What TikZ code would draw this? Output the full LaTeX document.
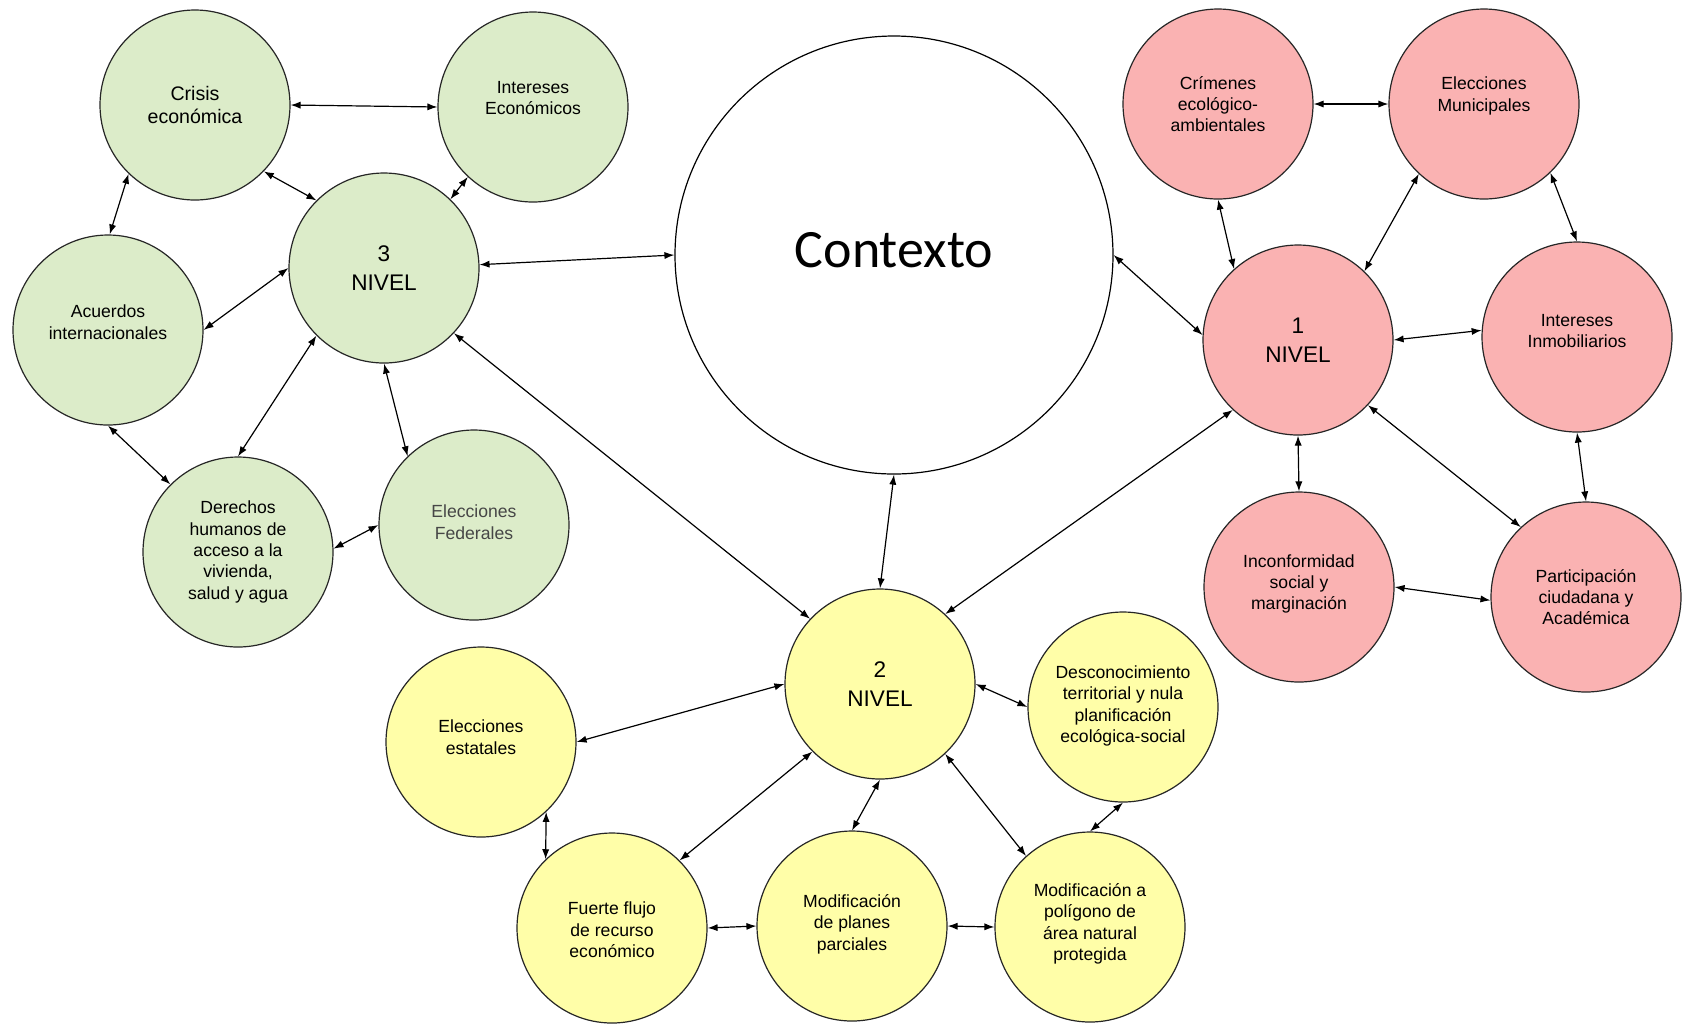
\documentclass[tikz,border=0pt]{standalone}
\usepackage{fontspec}
\setmainfont{Liberation Sans}
\newfontfamily\ctxfont{Carlito}
\usetikzlibrary{arrows.meta}
\definecolor{gfill}{RGB}{220,236,201}
\definecolor{rfill}{RGB}{250,178,178}
\definecolor{yfill}{RGB}{255,254,168}
\definecolor{efed}{RGB}{70,70,70}
\begin{document}
\begin{tikzpicture}[x=0.5pt,y=-0.5pt,
  circ/.style={circle, draw=black!85, line width=0.6pt, minimum size=95pt, inner sep=0pt},
  gcirc/.style={circ, fill=gfill},
  rcirc/.style={circ, fill=rfill},
  ycirc/.style={circ, fill=yfill},
  txt/.style={align=center, font=\fontsize{8.8}{10.7}\selectfont, inner sep=0pt},
  lvl/.style={align=center, font=\fontsize{11.3}{14.4}\selectfont, inner sep=0pt},
  con/.style={{Latex[length=5pt,width=3.6pt]}-{Latex[length=5pt,width=3.6pt]}, line width=0.6pt}]
\fill[white] (0,0) rectangle (1682,1025);
\useasboundingbox (0,0) rectangle (1682,1025);

% ---- green (level 3)
\node[gcirc] (crisis) at (195,105) {};
\node[gcirc] (intec) at (533,107) {};
\node[gcirc] (n3) at (384,268) {};
\node[gcirc] (acu) at (108,330) {};
\node[gcirc] (der) at (238,552) {};
\node[gcirc] (elfed) at (474,525) {};
\node[txt, font=\fontsize{9.8}{11.3}\selectfont] (crisis-t) at (195,105) {Crisis\\económica};
\node[txt] (intec-t) at (533,98) {Intereses\\Económicos};
\node[lvl] (n3-t) at (384,268) {3\\NIVEL};
\node[txt] (acu-t) at (108,322) {Acuerdos\\internacionales};
\node[txt] (der-t) at (238,552) {Derechos\\humanos de\\acceso a la\\vivienda,\\salud y agua};
\node[txt, text=efed] (elfed-t) at (474,522) {Elecciones\\Federales};

% ---- context
\node[circle, draw=black, line width=0.6pt, fill=white, minimum size=219pt, inner sep=0pt] (ctx) at (894,255) {};
\node[inner sep=0pt, font=\ctxfont\fontsize{27}{30}\selectfont] (ctx-t) at (894,250) {Contexto};

% ---- red (level 1)
\node[rcirc] (crim) at (1218,104) {};
\node[rcirc] (elmun) at (1484,104) {};
\node[rcirc] (n1) at (1298,340) {};
\node[rcirc] (intin) at (1577,337) {};
\node[rcirc] (incon) at (1299,587) {};
\node[rcirc] (part) at (1586,597) {};
\node[txt] (crim-t) at (1218,104) {Crímenes\\ecológico-\\ambientales};
\node[txt] (elmun-t) at (1484,96) {Elecciones\\Municipales};
\node[lvl] (n1-t) at (1298,340) {1\\NIVEL};
\node[txt] (intin-t) at (1577,331) {Intereses\\Inmobiliarios};
\node[txt] (incon-t) at (1299,584) {Inconformidad\\social y\\marginación};
\node[txt] (part-t) at (1586,597) {Participación\\ciudadana y\\Académica};

% ---- yellow (level 2)
\node[ycirc] (n2) at (880,684) {};
\node[ycirc] (elest) at (481,742) {};
\node[ycirc] (desc) at (1123,707) {};
\node[ycirc] (ff) at (612,928) {};
\node[ycirc] (mp) at (852,926) {};
\node[ycirc] (mpol) at (1090,927) {};
\node[lvl] (n2-t) at (880,684) {2\\NIVEL};
\node[txt] (elest-t) at (481,737) {Elecciones\\estatales};
\node[txt] (desc-t) at (1123,706) {Desconocimiento\\territorial y nula\\planificación\\ecológica-social};
\node[txt] (ff-t) at (612,930) {Fuerte flujo\\de recurso\\económico};
\node[txt] (mp-t) at (852,924) {Modificación\\de planes\\parciales};
\node[txt] (mpol-t) at (1090,924) {Modificación a\\polígono de\\área natural\\protegida};

% ---- connectors green
\draw[con] (crisis.east) -- (intec.west);
\draw[con] (crisis.-44) -- (n3.135);
\draw[con] (intec.227) -- (n3.46);
\draw[con] (crisis.226) -- (acu.89);
\draw[con] (acu.east) -- (n3.west);
\draw[con] (n3.225) -- (der.north);
\draw[con] (n3.south) -- (elfed.134);
\draw[con] (acu.south) -- (der.135);
\draw[con] (der.2) -- (elfed.west);

% ---- context links
\draw[con] (n3.2) -- (ctx.west);
\draw[con] (ctx.south) -- (n2.north);
\draw[con] (ctx.east) -- (n1.177);
\draw[con] (n3.-43) -- (n2.137);
\draw[con] (n1.227) -- (n2.47);

% ---- connectors red
\draw[con] (crim.east) -- (elmun.west);
\draw[con] (crim.south) -- (n1.132);
\draw[con] (elmun.227) -- (n1.46);
\draw[con] (elmun.-46) -- (intin.north);
\draw[con] (n1.east) -- (intin.176);
\draw[con] (n1.south) -- (incon.north);
\draw[con] (n1.-43) -- (part.133);
\draw[con] (intin.south) -- (part.north);
\draw[con] (incon.east) -- (part.182);

% ---- connectors yellow
\draw[con] (n2.west) -- (elest.east);
\draw[con] (n2.east) -- (desc.west);
\draw[con] (n2.225) -- (ff.45);
\draw[con] (n2.south) -- (mp.north);
\draw[con] (n2.-47) -- (mpol.132);
\draw[con] (desc.south) -- (mpol.north);
\draw[con] (elest.-47) -- (ff.134);
\draw[con] (ff.east) -- (mp.west);
\draw[con] (mp.east) -- (mpol.west);
\end{tikzpicture}
\end{document}
